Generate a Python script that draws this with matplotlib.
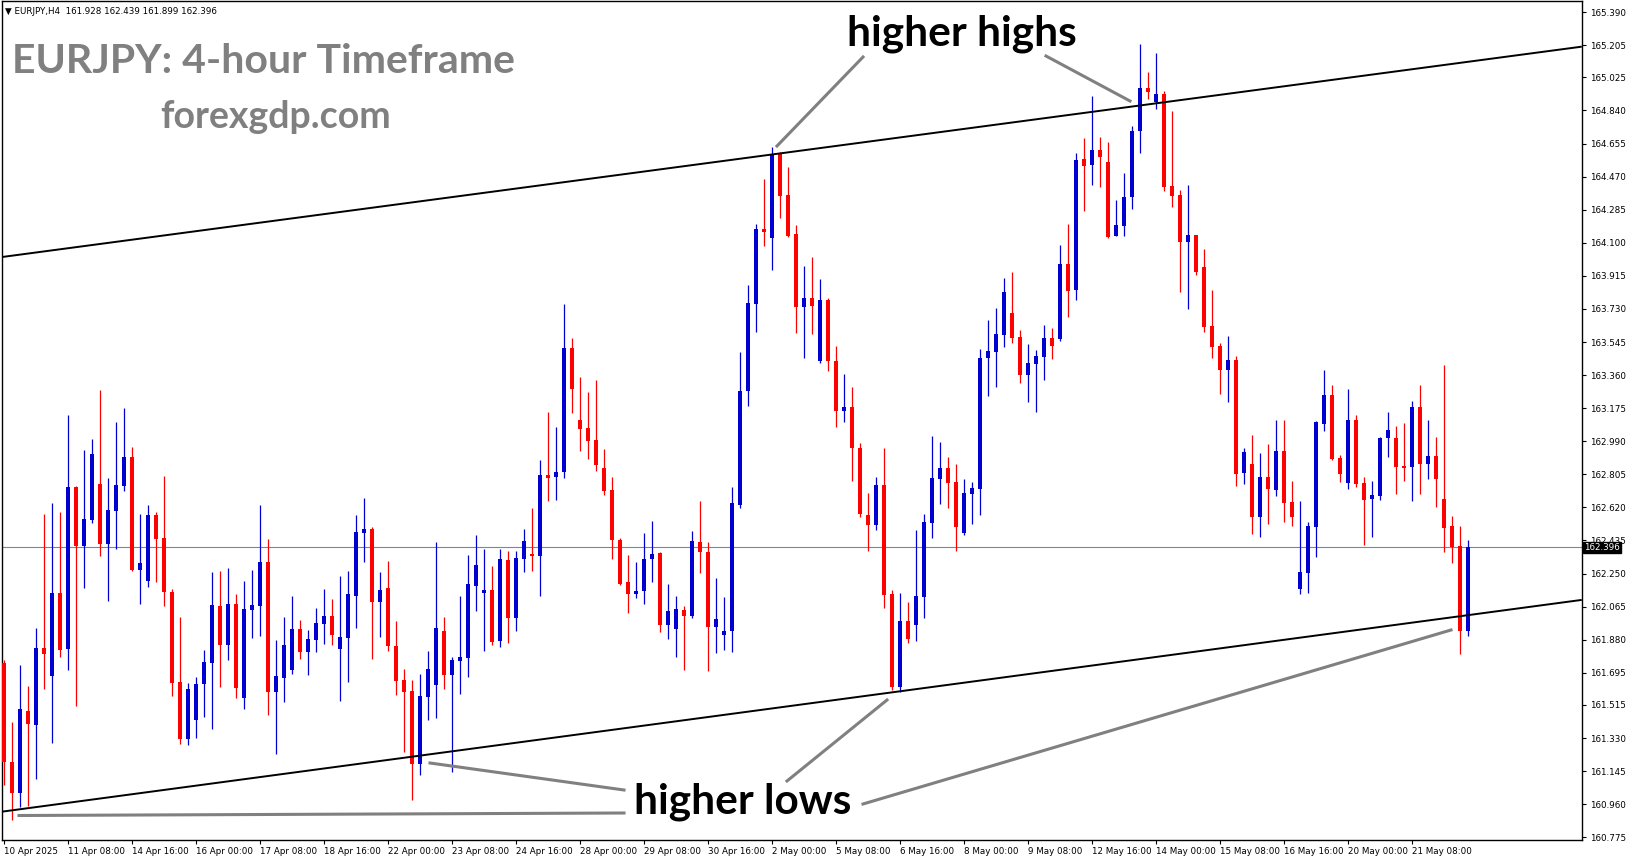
import matplotlib
matplotlib.use("Agg")
import matplotlib.pyplot as plt
from matplotlib.lines import Line2D

# EURJPY H4 candles (10 Apr 2025 00:00 onward)
opens = [
    161.752, 161.196, 161.025, 161.482, 161.405, 161.836, 161.679, 162.143,
    161.830, 162.734, 162.406, 162.550, 162.751, 162.417, 162.602, 162.742,
    162.902, 162.272, 162.210, 162.578, 162.449, 162.147, 161.644, 161.327,
    161.433, 161.634, 161.752, 162.069, 161.852, 162.080, 161.556, 162.048,
    162.070, 162.315, 161.590, 161.668, 161.711, 161.940, 161.813, 161.880,
    161.970, 162.013, 161.830, 161.892, 162.127, 162.479, 162.500, 162.093,
    162.170, 161.847, 161.655, 161.595, 161.187, 161.562, 161.627, 161.931,
    161.683, 161.761, 161.778, 162.181, 162.142, 162.158, 161.873, 162.326,
    162.003, 162.332, 162.360, 162.349, 162.802, 162.790, 162.818, 163.512,
    163.109, 163.064, 162.998, 162.841, 162.718, 162.439, 162.203, 162.133,
    162.154, 162.329, 162.366, 161.964, 161.942, 162.047, 162.015, 162.427,
    162.370, 161.949, 161.909, 161.930, 162.634, 163.273, 163.760, 164.178,
    164.124, 164.595, 164.368, 164.150, 163.738, 163.792, 163.441, 163.780,
    163.437, 163.161, 163.181, 162.953, 162.578, 162.522, 162.746, 162.136,
    161.618, 161.985, 161.964, 162.121, 162.535, 162.781, 162.841, 162.763,
    162.479, 162.697, 162.725, 163.458, 163.491, 163.586, 163.708, 163.573,
    163.362, 163.424, 163.463, 163.568, 163.564, 163.982, 163.838, 164.569,
    164.537, 164.619, 164.552, 164.140, 164.196, 164.358, 164.727, 164.966,
    164.889, 164.932, 164.418, 164.367, 164.106, 164.144, 163.965, 163.635,
    163.525, 163.390, 163.445, 162.814, 162.863, 162.568, 162.790, 162.720,
    162.936, 162.651, 162.166, 162.255, 162.511, 163.087, 163.249, 162.897,
    162.759, 163.109, 162.757, 162.667, 162.684, 163.008, 163.008, 162.852,
    162.846, 163.182, 162.863, 162.908, 162.667, 162.517, 162.405, 161.928,
]
highs = [
    161.767, 161.422, 161.739, 161.621, 161.946, 162.583, 162.645, 162.595,
    163.137, 162.740, 162.941, 163.003, 163.277, 162.785, 163.098, 163.176,
    162.958, 162.583, 162.634, 162.595, 162.796, 162.162, 162.009, 161.640,
    161.672, 161.823, 162.259, 162.265, 162.281, 162.136, 162.209, 162.270,
    162.634, 162.444, 161.879, 162.007, 162.125, 161.991, 161.935, 162.058,
    162.164, 162.108, 162.237, 162.265, 162.578, 162.673, 162.511, 162.259,
    162.321, 161.987, 161.716, 161.655, 161.690, 161.817, 162.427, 162.009,
    161.785, 162.125, 162.354, 162.466, 162.388, 162.293, 162.388, 162.377,
    162.377, 162.500, 162.617, 162.885, 163.154, 163.070, 163.758, 163.568,
    163.350, 163.263, 163.333, 162.947, 162.790, 162.449, 162.354, 162.315,
    162.478, 162.545, 162.370, 162.192, 162.125, 162.066, 162.488, 162.658,
    162.427, 162.227, 162.119, 162.734, 163.487, 163.864, 164.206, 164.459,
    164.636, 164.605, 164.521, 164.200, 163.970, 164.020, 163.898, 163.790,
    163.522, 163.367, 163.293, 162.981, 162.701, 162.790, 162.953, 162.158,
    162.143, 162.093, 162.494, 162.583, 163.020, 162.986, 162.902, 162.863,
    162.779, 162.763, 163.506, 163.668, 163.736, 163.903, 163.937, 163.612,
    163.534, 163.501, 163.640, 163.624, 164.088, 164.205, 164.603, 164.686,
    164.921, 164.692, 164.664, 164.339, 164.491, 164.754, 165.212, 165.055,
    165.162, 164.949, 164.837, 164.395, 164.423, 164.144, 164.066, 163.836,
    163.540, 163.579, 163.467, 162.953, 163.025, 162.925, 162.975, 163.109,
    163.109, 162.768, 162.656, 162.540, 163.103, 163.389, 163.305, 162.913,
    163.283, 163.137, 162.790, 162.768, 163.014, 163.154, 163.075, 163.092,
    163.215, 163.305, 163.109, 163.014, 163.417, 162.572, 162.517, 162.439,
]
lows = [
    161.068, 160.872, 160.946, 160.950, 161.103, 161.605, 161.304, 161.785,
    161.711, 161.511, 162.171, 162.535, 162.350, 162.099, 162.389, 162.714,
    162.266, 162.082, 162.177, 162.205, 162.071, 161.567, 161.297, 161.291,
    161.331, 161.448, 161.383, 161.618, 161.769, 161.556, 161.494, 161.892,
    161.903, 161.461, 161.243, 161.534, 161.689, 161.772, 161.685, 161.813,
    161.858, 161.852, 161.539, 161.646, 161.948, 162.317, 161.774, 161.897,
    161.819, 161.573, 161.254, 160.986, 161.125, 161.433, 161.440, 161.606,
    161.139, 161.577, 161.672, 162.041, 161.819, 161.851, 161.840, 161.862,
    161.929, 162.259, 162.265, 162.125, 162.656, 162.662, 162.785, 163.148,
    162.936, 162.888, 162.825, 162.692, 162.329, 162.188, 162.027, 162.115,
    162.082, 162.205, 161.925, 161.885, 161.785, 161.713, 162.003, 162.255,
    161.707, 161.803, 161.825, 161.809, 162.618, 163.187, 163.601, 164.082,
    163.950, 164.236, 164.130, 163.597, 163.453, 163.587, 163.430, 163.383,
    163.071, 163.099, 162.770, 162.564, 162.378, 162.494, 162.058, 161.599,
    161.590, 161.864, 161.875, 162.003, 162.451, 162.641, 162.619, 162.378,
    162.468, 162.529, 162.580, 163.245, 163.295, 163.519, 163.541, 163.318,
    163.208, 163.156, 163.335, 163.452, 163.553, 163.687, 163.782, 164.280,
    164.425, 164.414, 164.129, 164.135, 164.135, 164.291, 164.604, 164.906,
    164.850, 164.392, 164.302, 163.827, 163.731, 163.922, 163.603, 163.458,
    163.256, 163.211, 162.742, 162.753, 162.473, 162.457, 162.529, 162.686,
    162.540, 162.518, 162.136, 162.143, 162.340, 163.049, 162.887, 162.763,
    162.725, 162.736, 162.410, 162.457, 162.662, 162.902, 162.695, 162.768,
    162.656, 162.695, 162.779, 162.622, 162.371, 162.309, 161.800, 161.899,
]
closes = [
    161.198, 161.025, 161.493, 161.411, 161.836, 161.802, 162.143, 161.824,
    162.734, 162.406, 162.555, 162.919, 162.417, 162.606, 162.746, 162.902,
    162.272, 162.309, 162.578, 162.445, 162.149, 161.640, 161.327, 161.605,
    161.633, 161.756, 162.074, 161.852, 162.080, 161.612, 162.052, 162.074,
    162.315, 161.590, 161.677, 161.851, 161.940, 161.813, 161.884, 161.974,
    162.013, 161.908, 161.896, 162.136, 162.483, 162.500, 162.093, 162.158,
    161.847, 161.651, 161.590, 161.187, 161.566, 161.716, 161.946, 161.683,
    161.767, 161.784, 162.192, 162.298, 162.158, 161.868, 162.332, 162.003,
    162.337, 162.432, 162.349, 162.802, 162.785, 162.818, 163.512, 163.283,
    163.059, 162.994, 162.855, 162.713, 162.435, 162.194, 162.133, 162.153,
    162.331, 162.360, 161.964, 162.041, 162.052, 162.015, 162.433, 162.372,
    161.949, 161.996, 161.931, 162.644, 163.273, 163.764, 164.178, 164.162,
    164.595, 164.364, 164.140, 163.738, 163.792, 163.748, 163.780, 163.437,
    163.161, 163.181, 162.955, 162.584, 162.524, 162.746, 162.132, 161.618,
    161.985, 161.886, 162.125, 162.539, 162.785, 162.841, 162.759, 162.512,
    162.701, 162.729, 163.456, 163.495, 163.590, 163.825, 163.569, 163.362,
    163.428, 163.467, 163.568, 163.525, 163.982, 163.832, 164.563, 164.532,
    164.619, 164.582, 164.134, 164.200, 164.356, 164.726, 164.966, 164.945,
    164.932, 164.414, 164.363, 164.106, 164.144, 163.939, 163.631, 163.519,
    163.390, 163.445, 162.809, 162.930, 162.568, 162.790, 162.725, 162.936,
    162.647, 162.568, 162.259, 162.517, 163.098, 163.249, 162.891, 162.807,
    163.109, 162.751, 162.662, 162.690, 163.008, 163.053, 162.846, 162.841,
    163.182, 162.863, 162.908, 162.779, 162.505, 162.397, 161.929, 162.396,
]

# time axis labels, one every 8 bars
date_labels = [
    "10 Apr 2025", "11 Apr 08:00", "14 Apr 16:00", "16 Apr 00:00", "17 Apr 08:00",
    "18 Apr 16:00", "22 Apr 00:00", "23 Apr 08:00", "24 Apr 16:00", "28 Apr 00:00",
    "29 Apr 08:00", "30 Apr 16:00", "2 May 00:00", "5 May 08:00", "6 May 16:00",
    "8 May 00:00", "9 May 08:00", "12 May 16:00", "14 May 00:00", "15 May 08:00",
    "16 May 16:00", "20 May 00:00", "21 May 08:00",
]
price_ticks = [
    165.390, 165.205, 165.025, 164.840, 164.655, 164.470, 164.285, 164.100,
    163.915, 163.730, 163.545, 163.360, 163.175, 162.990, 162.805, 162.620,
    162.435, 162.250, 162.065, 161.880, 161.695, 161.515, 161.330, 161.145,
    160.960, 160.775,
]
last_price = 162.396
# channel lines: (bar index, price) end points
upper_channel = [(-0.125, 164.021), (197.1, 165.196)]
lower_channel = [(-0.5, 160.917), (197.1, 162.102)]

W, H = 1631, 861
fig = plt.figure(figsize=(W / 100, H / 100), dpi=100)
fig.patch.set_facecolor("white")
ax = fig.add_axes([2 / W, 21 / H, 1580 / W, 839 / H])

BLUE = "#0000d0"
RED = "#ff0000"

# candles
for i in range(len(opens)):
    o, h, l, c = opens[i], highs[i], lows[i], closes[i]
    col = BLUE if c >= o else RED
    ax.vlines(i, l, h, color=col, lw=0.9, zorder=3)
    body = max(abs(c - o), 0.006)
    ax.bar(i, body, bottom=min(o, c), width=0.62, color=col, lw=0, zorder=4)

# current price line
ax.axhline(last_price, color="#7a8896", lw=0.8, zorder=2)

# channel
for pts in (upper_channel, lower_channel):
    ax.plot([pts[0][0], pts[1][0]], [pts[0][1], pts[1][1]], color="black",
            lw=1.4, zorder=5, clip_on=True)

ax.set_xlim(-0.25, 197.25)
ax.set_ylim(160.760, 165.452)

# axes look like the MT4 terminal
for s in ax.spines.values():
    s.set_color("black")
    s.set_linewidth(1)
ax.yaxis.tick_right()
ax.set_yticks(price_ticks)
ax.set_yticklabels([f"{p:.3f}" for p in price_ticks])
ax.tick_params(axis="y", direction="out", length=3, width=0.8, pad=3,
               labelsize=6.3, colors="black")
ax.set_xticks([8 * k for k in range(len(date_labels))])
ax.set_xticklabels(date_labels, ha="left")
ax.tick_params(axis="x", direction="out", length=3, width=0.8, pad=2,
               labelsize=6.3, colors="black")

# price marker on the right axis
ax.text(1.0012, last_price, f"{last_price:.3f}", transform=ax.get_yaxis_transform(),
        ha="left", va="center", fontsize=6.3, color="white", zorder=10, clip_on=False,
        bbox=dict(boxstyle="square,pad=0.15", fc="black", ec="black"))

# header and titles (figure pixel positions)
def fx(x):
    return x / W

def fy(y):
    return 1 - y / H

fig.text(fx(5), fy(11.5), "\u25bc EURJPY,H4  161.928 162.439 161.899 162.396",
         fontsize=6.3, va="center", ha="left", color="black")
fig.text(fx(12), fy(73), "EURJPY: 4-hour Timeframe", fontsize=29.5, fontweight="bold",
         family="Lato", color="#808080", ha="left", va="baseline")
fig.text(fx(160), fy(117), "forexgdp.com", fontsize=27, fontweight="bold",
         family="Lato", color="#808080", ha="left", va="center")
fig.text(fx(962), fy(34), "higher highs", fontsize=30.5, fontweight="bold",
         family="Lato", color="black", ha="center", va="center")
fig.text(fx(743), fy(802), "higher lows", fontsize=30.5, fontweight="bold",
         family="Lato", color="black", ha="center", va="center")

# grey pointer lines
pointers = [
    ((863, 57), (777, 146)),
    ((1046, 56), (1130, 101)),
    ((624, 790), (430, 763)),
    ((624, 813), (19, 815.5)),
    ((787, 781), (887, 700)),
    ((863, 804), (1451, 630)),
]
for (x0, y0), (x1, y1) in pointers:
    fig.add_artist(Line2D([fx(x0), fx(x1)], [fy(y0), fy(y1)], color="#808080",
                          lw=2.2, transform=fig.transFigure, zorder=6))

fig.savefig("out.png", dpi=100, facecolor="white")
